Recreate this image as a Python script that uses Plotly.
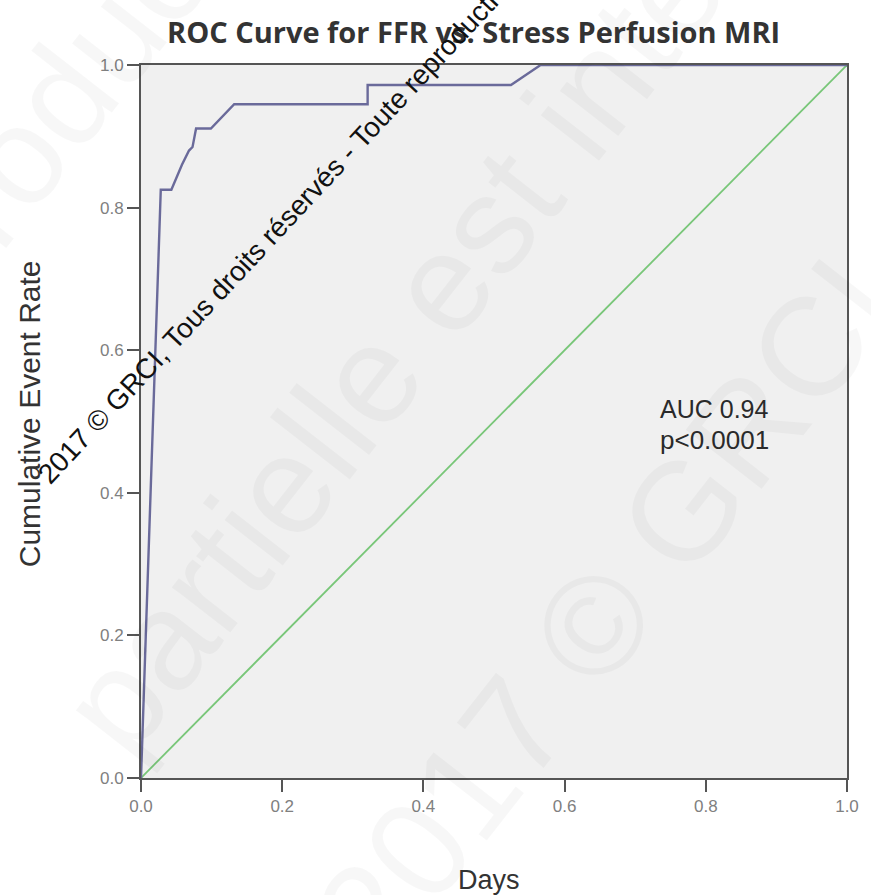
import plotly.graph_objects as go

# ROC curve points
fpr = [0.0, 0.028, 0.043, 0.058, 0.068, 0.073, 0.078, 0.099, 0.132, 0.321, 0.321, 0.524, 0.566, 1.0]
tpr = [0.0, 0.825, 0.825, 0.860, 0.880, 0.885, 0.911, 0.911, 0.945, 0.945, 0.972, 0.972, 1.0, 1.0]
ref_x = [0.0, 1.0]
ref_y = [0.0, 1.0]
tick_vals = [0.0, 0.2, 0.4, 0.6, 0.8, 1.0]
tick_text = ["0.0", "0.2", "0.4", "0.6", "0.8", "1.0"]

W, H = 871, 895
L, R, T, B = 141, 16, 65, 117
PW, PH = W - L - R, H - T - B


def px(x):
    return (x - L) / PW


def py(y):
    return (H - B - y) / PH


fig = go.Figure()
fig.add_trace(go.Scatter(x=ref_x, y=ref_y, mode="lines",
                         line=dict(color="#78c678", width=1.8), showlegend=False))
fig.add_trace(go.Scatter(x=fpr, y=tpr, mode="lines",
                         line=dict(color="#6a6a9a", width=2.4), showlegend=False))

axis_common = dict(range=[0, 1], tickvals=tick_vals, ticktext=tick_text,
                   ticks="outside", ticklen=12, tickwidth=2, tickcolor="#555",
                   showline=True, linecolor="#555", linewidth=2, mirror=True,
                   showgrid=False, zeroline=False,
                   tickfont=dict(family="Liberation Sans", size=17, color="#808080"))


def ann(text, cx, cy, size, color, family="Liberation Sans", angle=0):
    return dict(text=text, x=px(cx), y=py(cy), xref="paper", yref="paper",
                xanchor="center", yanchor="middle", showarrow=False, textangle=angle,
                font=dict(family=family, size=size, color=color))


annotations = []
# faint background watermark
wm_color = "rgba(0,0,0,0.03)"
for txt, cx, cy in [("Reproduction", 60, 100),
                    ("partielle est interdite", 480, 240),
                    ("2017 © GRCI", 610, 610)]:
    annotations.append(ann(txt, cx, cy, 140, wm_color, angle=-52))

annotations += [
    ann("<b>ROC Curve for FFR vs. Stress Perfusion MRI</b>", 477, 32, 29, "#333", family="Open Sans"),
    ann("Cumulative Event Rate", 28, 414, 30, "#333", angle=-90),
    ann("Days", 493, 880, 27, "#333"),
    ann("AUC 0.94", 720, 409, 25, "#2a2a2a"),
    ann("p<0.0001", 721, 440, 26, "#2a2a2a"),
    ann("2017 © GRCI, Tous droits réservés - Toute reproduction", 280, 226, 28, "#111", angle=-47),
]

fig.update_layout(
    width=W, height=H,
    margin=dict(l=L, r=R, t=T, b=B),
    paper_bgcolor="white", plot_bgcolor="#f0f0f0",
    xaxis=axis_common, yaxis=axis_common,
    annotations=annotations,
    showlegend=False,
)

fig.write_html("out.html")
